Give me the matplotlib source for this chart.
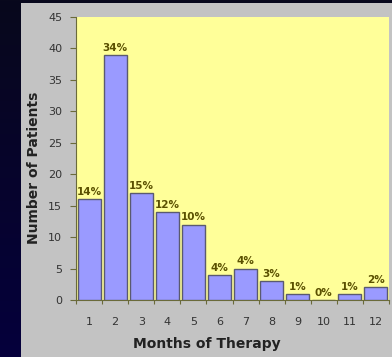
import numpy as np
import matplotlib
matplotlib.use("Agg")
import matplotlib.pyplot as plt
from matplotlib.patches import Rectangle

months = ["1", "2", "3", "4", "5", "6", "7", "8", "9", "10", "11", "12"]
patients = [16, 39, 17, 14, 12, 4, 5, 3, 1, 0, 1, 2]
percent_labels = ["14%", "34%", "15%", "12%", "10%", "4%", "4%", "3%", "1%", "0%", "1%", "2%"]
y_ticks = [0, 5, 10, 15, 20, 25, 30, 35, 40, 45]

W, H = 392, 357
fig = plt.figure(figsize=(W / 100, H / 100), dpi=100)

# dark navy slide background with a gentle vertical gradient
bg = fig.add_axes([0, 0, 1, 1], zorder=-10)
grad = np.linspace(0, 1, 256).reshape(-1, 1)
top_col = np.array([0x08, 0x08, 0x1c]) / 255
bot_col = np.array([0x05, 0x00, 0x3c]) / 255
img = top_col + (bot_col - top_col) * grad[..., None]
bg.imshow(img, aspect="auto", extent=[0, 1, 0, 1], origin="upper")
bg.set_xlim(0, 1)
bg.set_ylim(0, 1)
bg.axis("off")

# grey chart panel
bg.add_patch(Rectangle((21 / W, 0), 1 - 21 / W, (H - 3) / H,
                       facecolor="#c3c3c3", edgecolor="none", zorder=2))

ax = fig.add_axes([76 / W, (H - 300) / H, (389 - 76) / W, (300 - 17) / H])
ax.set_facecolor("#ffff99")
x = np.arange(1, len(months) + 1)
ax.bar(x, patients, width=0.88, color="#9a9aff", edgecolor="#5a5a70",
       linewidth=1.0, zorder=3)

for xi, v, lab in zip(x, patients, percent_labels):
    ax.text(xi, v + 0.35, lab, ha="center", va="bottom", fontsize=7.5,
            color="#5a5000", fontweight="bold", zorder=4)

ax.set_xlim(0.5, 12.5)
ax.set_ylim(0, 45)
ax.set_yticks(y_ticks)
ax.set_xticks(x)
ax.set_xticklabels(months)
# category separators carry the small tick marks on the x axis
ax.set_xticks(np.arange(0.5, 13.0, 1.0), minor=True)
ax.tick_params(axis="y", length=4, width=0.8, color="#6a6a3a",
               labelsize=8, labelcolor="#333333", pad=6)
ax.tick_params(axis="x", which="major", length=0, labelsize=8,
               labelcolor="#333333", pad=12)
ax.tick_params(axis="x", which="minor", length=3, width=0.8, color="#6a6a3a")
for side in ["top", "right"]:
    ax.spines[side].set_visible(False)
ax.spines["left"].set_color("#6a6a3a")
ax.spines["bottom"].set_color("#6a6a3a")
ax.set_ylabel("Number of Patients", fontsize=10, fontweight="bold",
              color="#222222")
ax.set_xlabel("Months of Therapy", fontsize=10, fontweight="bold",
              color="#222222")
ax.yaxis.set_label_coords((27 - 76) / 313, 0.466)
ax.yaxis.label.set_va("top")
ax.xaxis.set_label_coords((207 - 76) / 313, (300 - 337) / 283)

fig.savefig("out.png", dpi=100, facecolor="#08081c")
